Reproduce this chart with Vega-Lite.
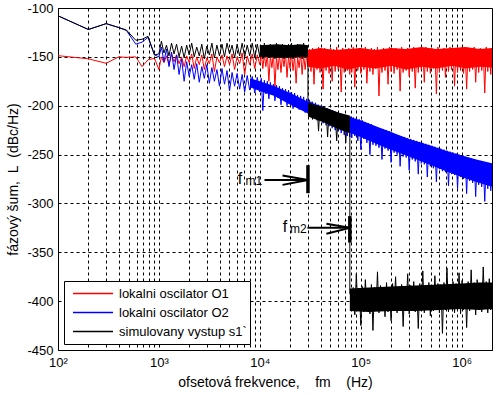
{
  "$schema": "https://vega.github.io/schema/vega-lite/v6.json",
  "width": 434,
  "height": 342,
  "autosize": {"type": "none"},
  "padding": {"left": 58, "top": 8, "right": 4, "bottom": 45},
  "background": "white",
  "config": {
    "view": {"stroke": "black", "strokeWidth": 1},
    "font": "Liberation Sans",
    "axis": {
      "grid": true, "gridColor": "black", "gridOpacity": 1, "gridDash": [3, 3], "gridWidth": 1,
      "ticks": false, "domainColor": "black", "labelColor": "black", "titleColor": "black",
      "labelFontSize": 13, "titleFontSize": 14, "titleFontWeight": "normal",
      "labelFont": "Liberation Sans", "titleFont": "Liberation Sans", "labelOverlap": false, "labelFlush": false
    }
  },
  "layer": [
    {
      "data": {"values": [
        {"f":100,"r":-148.8,"b":-108,"k":-108},
        {"f":200,"r":-152,"b":-122,"k":-122},
        {"f":300,"r":-156.6,"b":-116,"k":-116},
        {"f":400,"r":-150,"b":-120,"k":-120},
        {"f":476,"r":-150.5,"b":-123,"k":-122.5},
        {"f":590,"r":-150,"b":-137,"k":-133},
        {"f":680,"r":-160,"b":-135,"k":-132},
        {"f":780,"r":-153,"b":-130,"k":-129},
        {"f":904,"r":-151.5,"b":-148,"k":-148},
        {"f":1000,"r":-163,"b":-150,"k":-147},
        {"f":1059,"r":-150,"b":-140,"k":-134},
        {"f":1122,"r":-156,"b":-155,"k":-146},
        {"f":1189,"r":-149,"b":-142,"k":-138},
        {"f":1259,"r":-158,"b":-160,"k":-149},
        {"f":1334,"r":-147,"b":-145,"k":-136},
        {"f":1413,"r":-155,"b":-163,"k":-147},
        {"f":1496,"r":-148,"b":-148,"k":-137},
        {"f":1585,"r":-157,"b":-168,"k":-150},
        {"f":1679,"r":-150,"b":-152,"k":-139},
        {"f":1778,"r":-160,"b":-175,"k":-151},
        {"f":1884,"r":-149,"b":-155,"k":-138},
        {"f":1995,"r":-156,"b":-170,"k":-148},
        {"f":2113,"r":-147,"b":-158,"k":-136},
        {"f":2239,"r":-162,"b":-173,"k":-150},
        {"f":2371,"r":-150,"b":-157,"k":-140},
        {"f":2512,"r":-158,"b":-176,"k":-149},
        {"f":2661,"r":-148,"b":-160,"k":-137},
        {"f":2818,"r":-163,"b":-172,"k":-152},
        {"f":2985,"r":-151,"b":-158,"k":-139},
        {"f":3162,"r":-157,"b":-177,"k":-148},
        {"f":3350,"r":-147,"b":-161,"k":-136},
        {"f":3548,"r":-165,"b":-175,"k":-151},
        {"f":3758,"r":-150,"b":-163,"k":-138},
        {"f":3981,"r":-156,"b":-180,"k":-149},
        {"f":4217,"r":-148,"b":-162,"k":-137},
        {"f":4467,"r":-160,"b":-178,"k":-150},
        {"f":4732,"r":-149,"b":-164,"k":-136},
        {"f":5012,"r":-158,"b":-185,"k":-147},
        {"f":5309,"r":-147,"b":-166,"k":-138},
        {"f":5623,"r":-163,"b":-180,"k":-151},
        {"f":5957,"r":-150,"b":-167,"k":-137},
        {"f":6310,"r":-157,"b":-183,"k":-149},
        {"f":6683,"r":-146,"b":-168,"k":-136},
        {"f":7079,"r":-168,"b":-186,"k":-150},
        {"f":7499,"r":-149,"b":-169,"k":-138},
        {"f":7943,"r":-158,"b":-184,"k":-149},
        {"f":8414,"r":-147,"b":-170,"k":-136},
        {"f":8913,"r":-162,"b":-187,"k":-151},
        {"f":9441,"r":-148,"b":-171,"k":-137},
        {"f":10000,"r":-158,"b":-186,"k":-150},
        {"f":10350,"r":-146,"b":-172,"k":-138},
        {"f":10710,"r":-162,"b":-205,"k":-152},
        {"f":11090,"r":-148,"b":-174,"k":-136},
        {"f":11480,"r":-160,"b":-188,"k":-149},
        {"f":11880,"r":-147,"b":-175,"k":-139},
        {"f":12300,"r":-175,"b":-193,"k":-151},
        {"f":12730,"r":-149,"b":-176,"k":-137},
        {"f":13180,"r":-161,"b":-189,"k":-150},
        {"f":13640,"r":-146,"b":-178,"k":-138},
        {"f":14120,"r":-181,"b":-195,"k":-152},
        {"f":14620,"r":-150,"b":-179,"k":-136},
        {"f":15130,"r":-163,"b":-192,"k":-151},
        {"f":15660,"r":-147,"b":-180,"k":-139},
        {"f":16210,"r":-166,"b":-199,"k":-150},
        {"f":16780,"r":-148,"b":-182,"k":-137},
        {"f":17370,"r":-160,"b":-193,"k":-152},
        {"f":17980,"r":-146,"b":-183,"k":-138},
        {"f":18610,"r":-171,"b":-200,"k":-151},
        {"f":19260,"r":-149,"b":-184,"k":-137},
        {"f":19940,"r":-162,"b":-197,"k":-150},
        {"f":20640,"r":-147,"b":-186,"k":-136},
        {"f":21360,"r":-164,"b":-203,"k":-152},
        {"f":22110,"r":-148,"b":-187,"k":-138},
        {"f":22890,"r":-177,"b":-199,"k":-151},
        {"f":23690,"r":-150,"b":-189,"k":-137},
        {"f":24520,"r":-161,"b":-204,"k":-150},
        {"f":25380,"r":-146,"b":-190,"k":-138},
        {"f":26270,"r":-168,"b":-202,"k":-152},
        {"f":27190,"r":-148,"b":-191,"k":-136},
        {"f":28150,"r":-163,"b":-207,"k":-151},
        {"f":29140,"r":-147,"b":-193,"k":-138},
        {"f":30000,"r":-160,"b":-205,"k":-146},
        {"f":30010,"k":-197},
        {"f":31050,"r":-142,"b":-194,"k":-210},
        {"f":32140,"r":-165,"b":-209,"k":-196},
        {"f":33270,"r":-141,"b":-196,"k":-214},
        {"f":34440,"r":-178,"b":-211,"k":-198},
        {"f":35650,"r":-143,"b":-197,"k":-212},
        {"f":36900,"r":-163,"b":-215,"k":-199},
        {"f":38190,"r":-140,"b":-199,"k":-226},
        {"f":39530,"r":-166,"b":-213,"k":-200},
        {"f":40920,"r":-142,"b":-200,"k":-215},
        {"f":42360,"r":-183,"b":-218,"k":-201},
        {"f":43840,"r":-141,"b":-202,"k":-214},
        {"f":45380,"r":-164,"b":-220,"k":-203},
        {"f":46970,"r":-143,"b":-203,"k":-232},
        {"f":48620,"r":-167,"b":-221,"k":-204},
        {"f":50330,"r":-141,"b":-205,"k":-218},
        {"f":52090,"r":-175,"b":-223,"k":-205},
        {"f":53920,"r":-142,"b":-206,"k":-220},
        {"f":55810,"r":-165,"b":-225,"k":-207},
        {"f":57770,"r":-140,"b":-208,"k":-236},
        {"f":59800,"r":-163,"b":-226,"k":-208},
        {"f":61900,"r":-143,"b":-209,"k":-222},
        {"f":64070,"r":-186,"b":-228,"k":-209},
        {"f":66320,"r":-141,"b":-211,"k":-224},
        {"f":68650,"r":-166,"b":-230,"k":-210},
        {"f":71060,"r":-142,"b":-212,"k":-238},
        {"f":73550,"r":-164,"b":-231,"k":-211},
        {"f":76130,"r":-141,"b":-213,"k":-227},
        {"f":78000,"r":-168,"b":-232,"k":-212},
        {"f":78010,"k":-392},
        {"f":78800,"r":-142,"b":-211,"k":-391},
        {"f":81560,"r":-166,"b":-233,"k":-410},
        {"f":84420,"r":-140,"b":-212,"k":-386},
        {"f":87380,"r":-181,"b":-231,"k":-414},
        {"f":90450,"r":-143,"b":-213,"k":-372},
        {"f":93620,"r":-164,"b":-236,"k":-408},
        {"f":96900,"r":-141,"b":-214,"k":-388},
        {"f":100300,"r":-167,"b":-245,"k":-425},
        {"f":103800,"r":-142,"b":-215,"k":-385},
        {"f":107500,"r":-163,"b":-234,"k":-411},
        {"f":111200,"r":-140,"b":-217,"k":-378},
        {"f":115100,"r":-177,"b":-238,"k":-409},
        {"f":119200,"r":-143,"b":-218,"k":-387},
        {"f":123400,"r":-165,"b":-250,"k":-413},
        {"f":127700,"r":-141,"b":-219,"k":-383},
        {"f":132200,"r":-168,"b":-240,"k":-430},
        {"f":136800,"r":-142,"b":-221,"k":-386},
        {"f":141600,"r":-162,"b":-241,"k":-410},
        {"f":146600,"r":-140,"b":-222,"k":-370},
        {"f":151700,"r":-190,"b":-243,"k":-412},
        {"f":157000,"r":-143,"b":-223,"k":-384},
        {"f":162500,"r":-166,"b":-255,"k":-409},
        {"f":168200,"r":-141,"b":-224,"k":-387},
        {"f":174100,"r":-164,"b":-244,"k":-416},
        {"f":180200,"r":-142,"b":-225,"k":-381},
        {"f":186600,"r":-178,"b":-246,"k":-411},
        {"f":193100,"r":-140,"b":-226,"k":-388},
        {"f":199900,"r":-165,"b":-258,"k":-420},
        {"f":206900,"r":-143,"b":-228,"k":-382},
        {"f":214100,"r":-167,"b":-248,"k":-408},
        {"f":221600,"r":-141,"b":-229,"k":-375},
        {"f":229400,"r":-163,"b":-250,"k":-412},
        {"f":237500,"r":-142,"b":-230,"k":-385},
        {"f":245800,"r":-185,"b":-262,"k":-410},
        {"f":254400,"r":-140,"b":-231,"k":-383},
        {"f":263300,"r":-166,"b":-252,"k":-426},
        {"f":272600,"r":-143,"b":-232,"k":-386},
        {"f":282100,"r":-164,"b":-253,"k":-409},
        {"f":292000,"r":-141,"b":-233,"k":-372},
        {"f":302300,"r":-170,"b":-266,"k":-413},
        {"f":312900,"r":-142,"b":-234,"k":-384},
        {"f":323900,"r":-165,"b":-255,"k":-408},
        {"f":335200,"r":-140,"b":-235,"k":-380},
        {"f":347000,"r":-182,"b":-257,"k":-411},
        {"f":359200,"r":-143,"b":-236,"k":-386},
        {"f":371800,"r":-166,"b":-270,"k":-428},
        {"f":384800,"r":-141,"b":-237,"k":-382},
        {"f":398300,"r":-163,"b":-259,"k":-409},
        {"f":412300,"r":-142,"b":-238,"k":-369},
        {"f":426800,"r":-176,"b":-260,"k":-412},
        {"f":441700,"r":-140,"b":-239,"k":-384},
        {"f":457200,"r":-165,"b":-273,"k":-407},
        {"f":473300,"r":-143,"b":-240,"k":-381},
        {"f":489900,"r":-167,"b":-262,"k":-415},
        {"f":507100,"r":-141,"b":-241,"k":-385},
        {"f":524800,"r":-162,"b":-264,"k":-410},
        {"f":543300,"r":-142,"b":-242,"k":-374},
        {"f":562300,"r":-188,"b":-278,"k":-408},
        {"f":582000,"r":-140,"b":-243,"k":-382},
        {"f":602500,"r":-166,"b":-265,"k":-412},
        {"f":623600,"r":-143,"b":-244,"k":-383},
        {"f":645500,"r":-164,"b":-267,"k":-433},
        {"f":668200,"r":-141,"b":-245,"k":-381},
        {"f":691600,"r":-171,"b":-268,"k":-409},
        {"f":715900,"r":-142,"b":-246,"k":-366},
        {"f":741000,"r":-165,"b":-282,"k":-411},
        {"f":767000,"r":-140,"b":-247,"k":-383},
        {"f":793900,"r":-163,"b":-270,"k":-407},
        {"f":821800,"r":-143,"b":-248,"k":-380},
        {"f":850600,"r":-180,"b":-271,"k":-412},
        {"f":880500,"r":-141,"b":-249,"k":-382},
        {"f":911400,"r":-166,"b":-285,"k":-408},
        {"f":943400,"r":-142,"b":-250,"k":-371},
        {"f":976500,"r":-164,"b":-273,"k":-413},
        {"f":1010000,"r":-140,"b":-251,"k":-379},
        {"f":1046000,"r":-167,"b":-275,"k":-409},
        {"f":1083000,"r":-143,"b":-252,"k":-383},
        {"f":1121000,"r":-183,"b":-290,"k":-427},
        {"f":1160000,"r":-141,"b":-253,"k":-380},
        {"f":1201000,"r":-165,"b":-277,"k":-410},
        {"f":1243000,"r":-142,"b":-254,"k":-368},
        {"f":1286000,"r":-163,"b":-279,"k":-408},
        {"f":1331000,"r":-140,"b":-255,"k":-381},
        {"f":1378000,"r":-176,"b":-293,"k":-414},
        {"f":1426000,"r":-143,"b":-256,"k":-378},
        {"f":1476000,"r":-166,"b":-281,"k":-409},
        {"f":1528000,"r":-141,"b":-257,"k":-382},
        {"f":1582000,"r":-164,"b":-283,"k":-411},
        {"f":1637000,"r":-142,"b":-258,"k":-365},
        {"f":1695000,"r":-187,"b":-298,"k":-408},
        {"f":1754000,"r":-140,"b":-258,"k":-380},
        {"f":1816000,"r":-165,"b":-285,"k":-412},
        {"f":1880000,"r":-143,"b":-259,"k":-377},
        {"f":1946000,"r":-168,"b":-287,"k":-409},
        {"f":2000000,"r":-141,"b":-260,"k":-382}
      ]},
      "transform": [
        {"fold": ["r", "b", "k"], "as": ["s", "L"]},
        {"filter": "isValid(datum.L)"}
      ],
      "mark": {"type": "line", "strokeWidth": 1, "clip": true},
      "encoding": {
        "x": {
          "field": "f", "type": "quantitative",
          "scale": {"type": "log", "domain": [100, 2000000], "nice": false},
          "axis": {
            "title": "ofsetová frekvence,\u00a0\u00a0\u00a0\u00a0fm\u00a0\u00a0\u00a0\u00a0(Hz)",
            "values": [100,200,300,400,500,600,700,800,900,1000,2000,3000,4000,5000,6000,7000,8000,9000,10000,20000,30000,40000,50000,60000,70000,80000,90000,100000,200000,300000,400000,500000,600000,700000,800000,900000,1000000],
            "labelExpr": "datum.value==100?'10²':datum.value==1000?'10³':datum.value==10000?'10⁴':datum.value==100000?'10⁵':datum.value==1000000?'10⁶':''",
            "labelPadding": 6,
            "titlePadding": 6
          }
        },
        "y": {
          "field": "L", "type": "quantitative",
          "scale": {"domain": [-450, -100], "nice": false, "zero": false},
          "axis": {
            "title": "fázový šum,\u00a0\u00a0L\u00a0\u00a0(dBc/Hz)",
            "values": [-450,-400,-350,-300,-250,-200,-150,-100],
            "labelExpr": "'' + datum.value",
            "labelPadding": 5,
            "titlePadding": 6
          }
        },
        "color": {
          "field": "s", "type": "nominal",
          "scale": {"domain": ["r", "b", "k"], "range": ["#ff0000", "#0000ff", "#000000"]},
          "legend": {
            "title": null,
            "orient": "bottom-left",
            "offset": 6,
            "symbolType": "stroke",
            "symbolSize": 1600,
            "symbolStrokeWidth": 1.5,
            "clipHeight": 19,
            "rowPadding": 0,
            "labelFontSize": 13,
            "labelFont": "Liberation Sans",
            "labelColor": "black",
            "strokeColor": "black",
            "fillColor": "white",
            "padding": 3,
            "symbolOffset": 5,
            "labelOffset": 5,
            "labelExpr": "datum.value=='r'?'lokalni oscilator O1':datum.value=='b'?'lokalni oscilator O2':'simulovany vystup s1`'"
          }
        }
      }
    },
    {
      "data": {"values": [
        {"s":"r","g":"r","f":30000,"hi":-143,"lo":-160},
        {"s":"r","g":"r","f":40000,"hi":-141,"lo":-162},
        {"s":"r","g":"r","f":55000,"hi":-143,"lo":-159},
        {"s":"r","g":"r","f":75000,"hi":-142,"lo":-163},
        {"s":"r","g":"r","f":100000,"hi":-141,"lo":-160},
        {"s":"r","g":"r","f":140000,"hi":-143,"lo":-162},
        {"s":"r","g":"r","f":200000,"hi":-141,"lo":-159},
        {"s":"r","g":"r","f":280000,"hi":-142,"lo":-163},
        {"s":"r","g":"r","f":400000,"hi":-140,"lo":-160},
        {"s":"r","g":"r","f":560000,"hi":-142,"lo":-162},
        {"s":"r","g":"r","f":800000,"hi":-141,"lo":-159},
        {"s":"r","g":"r","f":1100000,"hi":-140,"lo":-162},
        {"s":"r","g":"r","f":1500000,"hi":-142,"lo":-160},
        {"s":"r","g":"r","f":2000000,"hi":-141,"lo":-161},
        {"s":"b","g":"b","f":8000,"hi":-172,"lo":-181},
        {"s":"b","g":"b","f":10000,"hi":-175,"lo":-185},
        {"s":"b","g":"b","f":14000,"hi":-180,"lo":-190},
        {"s":"b","g":"b","f":20000,"hi":-187,"lo":-199},
        {"s":"b","g":"b","f":30000,"hi":-196,"lo":-208},
        {"s":"b","g":"b","f":50000,"hi":-204,"lo":-218},
        {"s":"b","g":"b","f":75000,"hi":-211,"lo":-227},
        {"s":"b","g":"b","f":100000,"hi":-215,"lo":-232},
        {"s":"b","g":"b","f":150000,"hi":-222,"lo":-240},
        {"s":"b","g":"b","f":200000,"hi":-227,"lo":-245},
        {"s":"b","g":"b","f":300000,"hi":-234,"lo":-252},
        {"s":"b","g":"b","f":500000,"hi":-241,"lo":-261},
        {"s":"b","g":"b","f":700000,"hi":-246,"lo":-267},
        {"s":"b","g":"b","f":1000000,"hi":-251,"lo":-273},
        {"s":"b","g":"b","f":1400000,"hi":-255,"lo":-278},
        {"s":"b","g":"b","f":2000000,"hi":-259,"lo":-283},
        {"s":"k","g":"k1","f":10000,"hi":-138,"lo":-150},
        {"s":"k","g":"k1","f":15000,"hi":-137,"lo":-151},
        {"s":"k","g":"k1","f":20000,"hi":-138,"lo":-151},
        {"s":"k","g":"k1","f":25000,"hi":-137,"lo":-150},
        {"s":"k","g":"k1","f":30000,"hi":-138,"lo":-150},
        {"s":"k","g":"k2","f":30000,"hi":-197,"lo":-211},
        {"s":"k","g":"k2","f":45000,"hi":-202,"lo":-218},
        {"s":"k","g":"k2","f":60000,"hi":-207,"lo":-224},
        {"s":"k","g":"k2","f":78000,"hi":-210,"lo":-228},
        {"s":"k","g":"k3","f":78000,"hi":-387,"lo":-410},
        {"s":"k","g":"k3","f":120000,"hi":-386,"lo":-411},
        {"s":"k","g":"k3","f":200000,"hi":-385,"lo":-410},
        {"s":"k","g":"k3","f":350000,"hi":-384,"lo":-410},
        {"s":"k","g":"k3","f":600000,"hi":-383,"lo":-409},
        {"s":"k","g":"k3","f":1000000,"hi":-382,"lo":-408},
        {"s":"k","g":"k3","f":1500000,"hi":-381,"lo":-409},
        {"s":"k","g":"k3","f":2000000,"hi":-381,"lo":-408}
      ]},
      "mark": {"type": "area", "clip": true},
      "encoding": {
        "x": {"field": "f", "type": "quantitative"},
        "y": {"field": "hi", "type": "quantitative"},
        "y2": {"field": "lo"},
        "color": {"field": "s", "type": "nominal", "legend": null},
        "detail": {"field": "g"}
      }
    },
    {
      "data": {"values": [
        {"f": 30000, "lo": -260.8, "hi": -289.5},
        {"f": 78000, "lo": -313, "hi": -340}
      ]},
      "mark": {"type": "rule", "strokeWidth": 3.5, "color": "black"},
      "encoding": {
        "x": {"field": "f", "type": "quantitative"},
        "y": {"field": "lo", "type": "quantitative"},
        "y2": {"field": "hi"}
      }
    },
    {
      "data": {"values": [
        {"f1": 11130, "L1": -276, "f2": 30000, "L2": -276},
        {"f1": 16800, "L1": -271.4, "f2": 30000, "L2": -276},
        {"f1": 16800, "L1": -281, "f2": 30000, "L2": -276},
        {"f1": 29650, "L1": -325, "f2": 78000, "L2": -325},
        {"f1": 45700, "L1": -320.7, "f2": 78000, "L2": -325},
        {"f1": 45700, "L1": -331, "f2": 78000, "L2": -325}
      ]},
      "mark": {"type": "rule", "strokeWidth": 2, "color": "black"},
      "encoding": {
        "x": {"field": "f1", "type": "quantitative"},
        "x2": {"field": "f2"},
        "y": {"field": "L1", "type": "quantitative"},
        "y2": {"field": "L2"}
      }
    },
    {
      "data": {"values": [
        {"f": 6050, "L": -279.8, "t": "f"},
        {"f": 16890, "L": -329.2, "t": "f"}
      ]},
      "mark": {"type": "text", "align": "left", "baseline": "alphabetic", "fontSize": 16, "font": "Liberation Sans", "color": "black"},
      "encoding": {
        "x": {"field": "f", "type": "quantitative"},
        "y": {"field": "L", "type": "quantitative"},
        "text": {"field": "t"}
      }
    },
    {
      "data": {"values": [
        {"f": 7210, "L": -281, "t": "m1"},
        {"f": 19900, "L": -330.5, "t": "m2"}
      ]},
      "mark": {"type": "text", "align": "left", "baseline": "alphabetic", "fontSize": 12, "font": "Liberation Sans", "color": "black"},
      "encoding": {
        "x": {"field": "f", "type": "quantitative"},
        "y": {"field": "L", "type": "quantitative"},
        "text": {"field": "t"}
      }
    }
  ]
}
